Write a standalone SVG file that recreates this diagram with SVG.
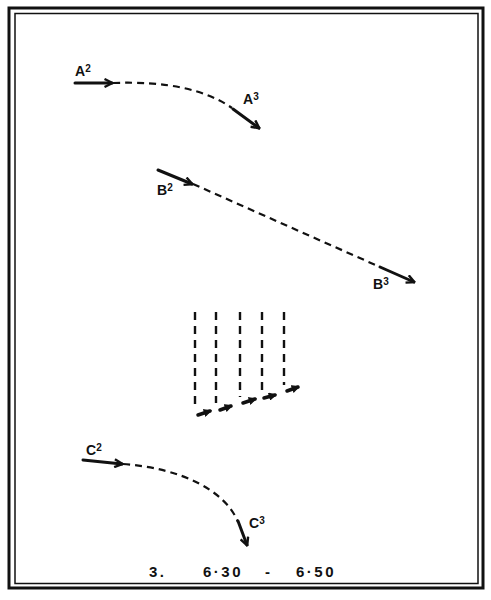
<svg xmlns="http://www.w3.org/2000/svg" width="491" height="600" viewBox="0 0 491 600">
<style>
.solid{stroke:#111;stroke-width:3;fill:none;stroke-linecap:round}
.dash{stroke:#111;stroke-width:2.2;fill:none;stroke-dasharray:7 5}
.vdash{stroke:#111;stroke-width:2.4;fill:none;stroke-dasharray:8 6}
.small{stroke:#111;stroke-width:3.5;fill:none;stroke-linecap:round}
.lbl{font-family:"Liberation Sans",Arial,sans-serif;font-weight:bold;font-size:14px;fill:#111}
.sup{font-size:10px}
.cap{font-family:"Liberation Sans",Arial,sans-serif;font-weight:bold;font-size:15px;fill:#111;letter-spacing:2.5px}
</style>
<defs>
<marker id="ah" viewBox="0 0 10 10" refX="8.5" refY="5" markerWidth="10" markerHeight="10" markerUnits="userSpaceOnUse" orient="auto">
<path d="M1,1 L9,5 L1,9" fill="none" stroke="#111" stroke-width="2.4" stroke-linejoin="miter"/>
</marker>
<marker id="ahs" viewBox="0 0 10 10" refX="8" refY="5" markerWidth="8" markerHeight="8" markerUnits="userSpaceOnUse" orient="auto">
<path d="M1,1 L9,5 L1,9 Z" fill="#111" stroke="#111" stroke-width="1.5"/>
</marker>
</defs>
<rect width="491" height="600" fill="#fff"/>
<g id="frame">
<rect x="9" y="8" width="474" height="580" fill="none" stroke="#111" stroke-width="3"/>
<rect x="15" y="13.5" width="463" height="570" fill="none" stroke="#111" stroke-width="1.5"/>
</g>
<g id="connectors">
<path class="dash" d="M113,83 Q192,80 232,108"/>
<path class="dash" d="M193,184 L380,267"/>
<path class="dash" d="M123,464 C180,468 225,490 238,522"/>
<path class="vdash" d="M195,312 V410"/>
<path class="vdash" d="M216,312 V403"/>
<path class="vdash" d="M240,312 V397"/>
<path class="vdash" d="M262,312 V393"/>
<path class="vdash" d="M284,312 V385"/>
</g>
<g id="A2"><line class="solid" x1="75" y1="83" x2="112" y2="83" marker-end="url(#ah)"/><text class="lbl" x="75" y="76">A<tspan class="sup" dy="-4">2</tspan></text></g>
<g id="A3"><line class="solid" x1="233" y1="109" x2="259" y2="128" marker-end="url(#ah)"/><text class="lbl" x="243" y="104">A<tspan class="sup" dy="-4">3</tspan></text></g>
<g id="B2"><line class="solid" x1="158" y1="170" x2="192" y2="184" marker-end="url(#ah)"/><text class="lbl" x="157" y="195">B<tspan class="sup" dy="-4">2</tspan></text></g>
<g id="B3"><line class="solid" x1="380" y1="267" x2="414" y2="282" marker-end="url(#ah)"/><text class="lbl" x="373" y="289">B<tspan class="sup" dy="-4">3</tspan></text></g>
<g id="C2"><line class="solid" x1="83" y1="460" x2="122" y2="464" marker-end="url(#ah)"/><text class="lbl" x="86" y="455">C<tspan class="sup" dy="-4">2</tspan></text></g>
<g id="C3"><line class="solid" x1="238" y1="521" x2="247" y2="545" marker-end="url(#ah)"/><text class="lbl" x="249" y="528">C<tspan class="sup" dy="-4">3</tspan></text></g>
<g id="shifts">
<line class="small" x1="198" y1="415" x2="210" y2="411" marker-end="url(#ahs)"/>
<line class="small" x1="220" y1="410" x2="231" y2="406" marker-end="url(#ahs)"/>
<line class="small" x1="243" y1="403" x2="255" y2="399" marker-end="url(#ahs)"/>
<line class="small" x1="264" y1="398" x2="275" y2="395" marker-end="url(#ahs)"/>
<line class="small" x1="287" y1="391" x2="298" y2="387" marker-end="url(#ahs)"/>
</g>
<g id="caption">
<text class="cap" x="149" y="577">3.</text>
<text class="cap" x="203" y="577">6·30</text>
<text class="cap" x="265" y="577">-</text>
<text class="cap" x="296" y="577">6·50</text>
</g>
</svg>
